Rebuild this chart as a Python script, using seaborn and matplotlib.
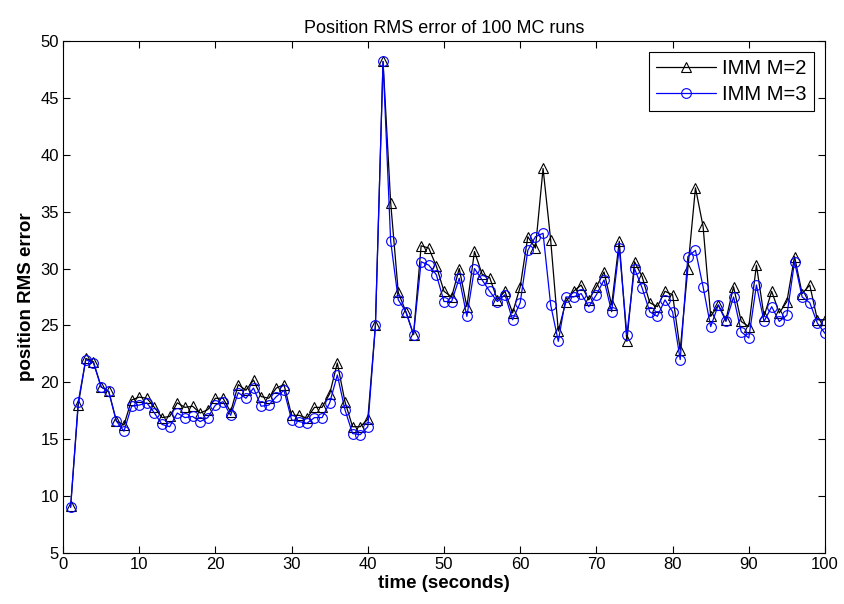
import numpy as np
import pandas as pd
import matplotlib
matplotlib.use("Agg")
import matplotlib.pyplot as plt
import seaborn as sns

time_s = list(range(1, 101))

imm_m2 = [9.1, 18.0, 22.1, 21.8, 19.6, 19.2, 16.6, 16.25, 18.45, 18.7,
          18.6, 17.8, 16.9, 17.0, 18.2, 17.8, 17.9, 17.3, 17.6, 18.6,
          18.6, 17.4, 19.8, 19.3, 20.2, 18.75, 18.6, 19.5, 19.8, 17.1,
          17.1, 16.85, 17.8, 17.8, 19.0, 21.7, 18.3, 16.1, 16.1, 16.75,
          25.0, 48.2, 35.8, 27.9, 26.2, 24.2, 32.0, 31.8, 30.2, 28.0,
          27.5, 30.0, 26.65, 31.5, 29.5, 29.2, 27.25, 28.0, 26.1, 28.4,
          32.8, 31.8, 38.8, 32.5, 24.5, 27.1, 28.0, 28.55, 27.25, 28.4,
          29.7, 26.8, 32.4, 23.6, 30.6, 29.3, 27.0, 26.65, 28.0, 27.7,
          22.85, 30.0, 37.1, 33.7, 25.8, 26.8, 25.5, 28.4, 25.35, 24.9,
          30.3, 25.8, 28.0, 26.1, 27.1, 31.05, 27.8, 28.55, 25.5, 25.5]

imm_m3 = [9.0, 18.3, 22.0, 21.7, 19.6, 19.2, 16.6, 15.7, 17.9, 18.0,
          18.2, 17.3, 16.3, 16.1, 17.3, 16.9, 17.0, 16.55, 16.9, 18.0,
          18.3, 17.1, 19.1, 18.6, 19.5, 17.9, 18.0, 18.75, 19.3, 16.7,
          16.55, 16.4, 16.9, 16.9, 18.2, 20.65, 17.6, 15.5, 15.4, 16.1,
          25.0, 48.2, 32.4, 27.25, 26.2, 24.2, 30.6, 30.3, 29.45, 27.1,
          27.1, 29.15, 25.8, 30.0, 29.0, 28.0, 27.1, 27.7, 25.5, 27.0,
          31.6, 32.8, 33.1, 26.8, 23.6, 27.5, 27.5, 27.8, 26.65, 27.7,
          29.0, 26.2, 31.8, 24.2, 30.0, 28.3, 26.2, 25.8, 27.25, 26.2,
          22.0, 31.05, 31.6, 28.4, 24.9, 26.8, 25.35, 27.5, 24.45, 23.9,
          28.55, 25.35, 26.65, 25.35, 25.9, 30.6, 27.5, 27.0, 25.2, 24.3]

series_names = ["IMM M=2", "IMM M=3"]
x_ticks = list(range(0, 101, 10))
y_ticks = list(range(5, 51, 5))

sns.set_theme(style="white")
plt.rcParams['font.family'] = ['Liberation Sans', 'DejaVu Sans']
plt.rcParams['text.color'] = 'black'
plt.rcParams['axes.labelcolor'] = 'black'

df = pd.DataFrame({
    "time": time_s * 2,
    "err": imm_m2 + imm_m3,
    "series": [series_names[0]] * len(time_s) + [series_names[1]] * len(time_s),
})

fig = plt.figure(figsize=(8.44, 6.04), dpi=100)
ax = fig.add_axes([63 / 844, 1 - 553 / 604, (825 - 63) / 844, (553 - 41) / 604])

sns.lineplot(data=df[df.series == series_names[0]], x="time", y="err", ax=ax,
             color="black", marker="^", markersize=7.5, markerfacecolor="none",
             markeredgecolor="black", markeredgewidth=0.8, linewidth=0.9,
             label=series_names[0])
sns.lineplot(data=df[df.series == series_names[1]], x="time", y="err", ax=ax,
             color="#0000ff", marker="o", markersize=7, markerfacecolor="none",
             markeredgecolor="#0000ff", markeredgewidth=0.8, linewidth=0.9,
             label=series_names[1])

ax.set_xlim(0, 100)
ax.set_ylim(5, 50)
ax.set_xticks(x_ticks)
ax.set_yticks(y_ticks)
ax.tick_params(direction="in", length=5, width=0.8, top=True, right=True,
               bottom=True, left=True, labelsize=12, colors="black", pad=3)
for s in ax.spines.values():
    s.set_visible(True)
    s.set_color("black")
    s.set_linewidth(0.8)

ax.set_title("Position RMS error of 100 MC runs", fontsize=13, pad=6)
ax.set_xlabel("time (seconds)", fontsize=13.5, fontweight="bold", labelpad=2)
ax.set_ylabel("position RMS error", fontsize=13.5, fontweight="bold", labelpad=4)

leg = ax.legend(loc="upper right", fontsize=14.5, frameon=True, fancybox=False,
                edgecolor="black", framealpha=1, borderaxespad=0.55,
                handlelength=3.0, handletextpad=0.3, borderpad=0.35,
                labelspacing=0.35)
leg.get_frame().set_linewidth(0.8)
for t in leg.get_texts():
    t.set_color("black")

fig.savefig("out.png", dpi=100, facecolor="white")
